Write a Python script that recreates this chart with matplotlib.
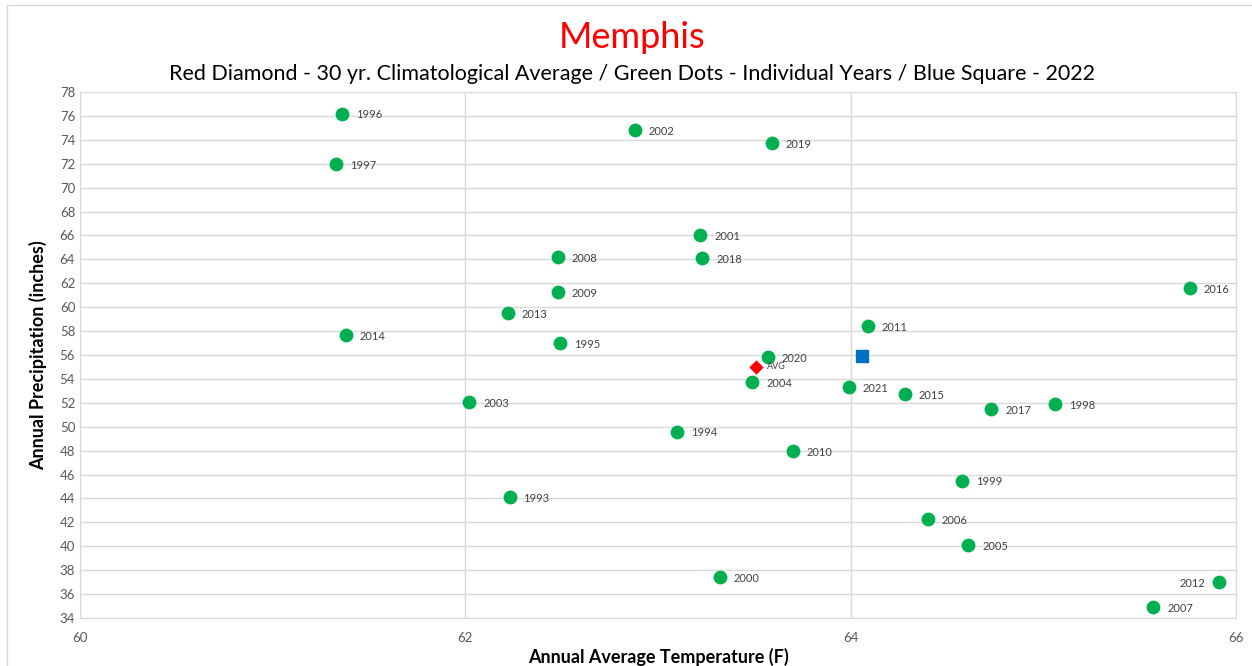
import matplotlib.pyplot as plt
from matplotlib.patches import Rectangle

# individual years
years = [1993, 1994, 1995, 1996, 1997, 1998, 1999, 2000, 2001, 2002,
         2003, 2004, 2005, 2006, 2007, 2008, 2009, 2010, 2011, 2012,
         2013, 2014, 2015, 2016, 2017, 2018, 2019, 2020, 2021]
temps = [62.23, 63.10, 62.49, 61.36, 61.33, 65.06, 64.58, 63.32, 63.22, 62.88,
         62.02, 63.49, 64.61, 64.40, 65.57, 62.48, 62.48, 63.70, 64.09, 65.91,
         62.22, 61.38, 64.28, 65.76, 64.73, 63.23, 63.59, 63.57, 63.99]
precip = [44.1, 49.6, 57.0, 76.2, 72.0, 51.9, 45.5, 37.4, 66.0, 74.8,
          52.1, 53.7, 40.1, 42.3, 34.9, 64.2, 61.3, 48.0, 58.4, 37.0,
          59.5, 57.7, 52.7, 61.6, 51.5, 64.1, 73.7, 55.8, 53.3]

avg_temp, avg_precip = 63.51, 55.0
temp_2022, precip_2022 = 64.06, 55.9

label_font = 'Lato'

fig = plt.figure(figsize=(12.52, 6.66), dpi=100)
fig.patches.append(Rectangle((7 / 1252, -0.01), 1.0, 1 - 5 / 666 + 0.01,
                             transform=fig.transFigure, fill=False,
                             edgecolor='#d9d9d9', linewidth=1))
ax = fig.add_axes([80 / 1252, 48 / 666, (1236 - 80) / 1252, (618 - 92) / 666])

ax.scatter(temps, precip, s=80, color='#00b050', zorder=3)
for yr, t, p in zip(years, temps, precip):
    if yr == 2012:
        ax.annotate(str(yr), (t, p), xytext=(-10, -1), textcoords='offset points',
                    ha='right', va='center', fontsize=8, color='#404040',
                    family=label_font)
    else:
        ax.annotate(str(yr), (t, p), xytext=(10, -1), textcoords='offset points',
                    ha='left', va='center', fontsize=8, color='#404040',
                    family=label_font)

ax.scatter([avg_temp], [avg_precip], marker='D', s=40, color='#ff0000', zorder=4)
ax.annotate('AVG', (avg_temp, avg_precip), xytext=(8, 0), textcoords='offset points',
            ha='left', va='center', fontsize=6.5, color='#404040', family=label_font)
ax.scatter([temp_2022], [precip_2022], marker='s', s=85, color='#0070c0', zorder=4)

ax.set_xlim(60, 66)
ax.set_ylim(34, 78)
ax.set_xticks([60, 62, 64, 66])
ax.set_yticks(range(34, 79, 2))
ax.grid(True, color='#d9d9d9', linewidth=1)
ax.set_axisbelow(True)
for s in ax.spines.values():
    s.set_color('#d9d9d9')
ax.tick_params(length=0, labelsize=9.5, labelcolor='#595959')
ax.tick_params(axis='x', pad=10)
for lbl in ax.get_xticklabels() + ax.get_yticklabels():
    lbl.set_family(label_font)

ax.set_xlabel('Annual Average Temperature (F)', fontsize=13, fontweight='bold',
              family=label_font, va='center')
ax.xaxis.set_label_coords(0.5, -(657 - 618) / 526)
ax.set_ylabel('Annual Precipitation (inches)', fontsize=13, fontweight='bold',
              family=label_font, va='center')
ax.yaxis.set_label_coords(-(80 - 38) / 1156, 0.5)

fig.text(0.505, 1 - 38 / 666, 'Memphis', color='#ff0000', fontsize=26,
         ha='center', va='center', family=label_font)
fig.text(0.505, 1 - 74 / 666,
         'Red Diamond - 30 yr. Climatological Average / Green Dots - Individual Years / Blue Square - 2022',
         color='#000000', fontsize=15.5, ha='center', va='center', family=label_font)

fig.savefig('out.png', dpi=100)
